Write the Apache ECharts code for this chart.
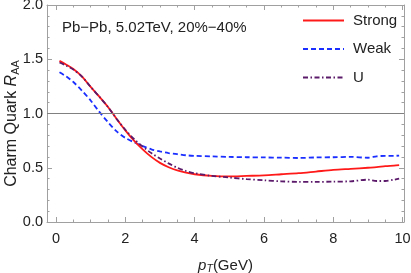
<!DOCTYPE html>
<html><head><meta charset="utf-8">
<script src="https://cdn.jsdelivr.net/npm/echarts@6/dist/echarts.min.js"></script>
<style>html,body{margin:0;padding:0;background:#fff}#c{width:411px;height:273px}</style>
</head><body><div id="c"></div>
<script>
const pT     = [0.1, 0.3, 0.5, 0.75, 1.0, 1.25, 1.5, 1.75, 2.0, 2.25, 2.5, 2.75, 3.0, 3.25, 3.5, 3.75, 4.0, 4.5, 5.0, 5.5, 6.0, 6.5, 7.0, 7.5, 8.0, 8.5, 9.0, 9.25, 9.5, 9.75, 9.9];
const strong = [1.485, 1.45, 1.41, 1.34, 1.245, 1.155, 1.06, 0.95, 0.845, 0.75, 0.67, 0.60, 0.545, 0.505, 0.475, 0.455, 0.44, 0.425, 0.42, 0.425, 0.43, 0.44, 0.45, 0.465, 0.48, 0.49, 0.50, 0.505, 0.515, 0.52, 0.525];
const weak   = [1.38, 1.34, 1.29, 1.21, 1.12, 1.015, 0.92, 0.835, 0.775, 0.735, 0.70, 0.67, 0.65, 0.635, 0.625, 0.615, 0.61, 0.605, 0.60, 0.597, 0.595, 0.593, 0.59, 0.595, 0.597, 0.60, 0.592, 0.605, 0.61, 0.61, 0.612];
const uPot   = [1.47, 1.44, 1.405, 1.34, 1.245, 1.155, 1.06, 0.95, 0.85, 0.765, 0.695, 0.635, 0.585, 0.54, 0.50, 0.47, 0.45, 0.425, 0.41, 0.395, 0.385, 0.375, 0.37, 0.37, 0.372, 0.375, 0.39, 0.378, 0.378, 0.39, 0.40];
const seriesNames = ['Strong', 'Weak', 'U'];
const xTickLabels = [0, 2, 4, 6, 8, 10];
const xMinorTicks = [0, 0.5, 1, 1.5, 2, 2.5, 3, 3.5, 4, 4.5, 5, 5.5, 6, 6.5, 7, 7.5, 8, 8.5, 9, 9.5, 10];
const yTickLabels = [0, 0.5, 1.0, 1.5, 2.0];
const yMinorTicks = [0, 0.1, 0.2, 0.3, 0.4, 0.5, 0.6, 0.7, 0.8, 0.9, 1.0, 1.1, 1.2, 1.3, 1.4, 1.5, 1.6, 1.7, 1.8, 1.9, 2.0];
const refLine = 1.0;
const annotation = 'Pb\u2212Pb, 5.02TeV, 20%\u221240%';

const FONT = '"Liberation Sans", Arial, sans-serif';
const FRAME = '#a0a0a0';
const XMIN = -0.26, XMAX = 10.04, YMIN = 0, YMAX = 2;

function pairs(ys) { return pT.map((x, i) => [x, ys[i]]); }

function xAxisDef(pos, major, withLabel, showLine) {
  return {
    type: 'value', position: pos, min: XMIN, max: XMAX, gridIndex: 0,
    axisLine: { show: showLine, onZero: false, lineStyle: { color: FRAME, width: 1 } },
    axisTick: { show: true, inside: true, length: major ? 5 : 2.5, customValues: major ? xTickLabels : xMinorTicks, lineStyle: { color: FRAME, width: 1 } },
    axisLabel: { show: withLabel, customValues: xTickLabels, color: '#222', fontFamily: FONT, fontSize: 14.5, margin: 9 },
    splitLine: { show: false }
  };
}
function yAxisDef(pos, major, withLabel, showLine) {
  return {
    type: 'value', position: pos, min: YMIN, max: YMAX, gridIndex: 0,
    axisLine: { show: showLine, onZero: false, lineStyle: { color: FRAME, width: 1 } },
    axisTick: { show: true, inside: true, length: major ? 5 : 2.5, customValues: major ? yTickLabels : yMinorTicks, lineStyle: { color: FRAME, width: 1 } },
    axisLabel: { show: withLabel, customValues: yTickLabels, formatter: v => Number(v).toFixed(1), color: '#222', fontFamily: FONT, fontSize: 14.5, margin: 4 },
    splitLine: { show: false }
  };
}

const xMain = xAxisDef('bottom', true, true, true);
xMain.name = '{i|p}{sub|T}(GeV)';
xMain.nameLocation = 'middle';
xMain.nameGap = 35;
xMain.nameTextStyle = {
  fontFamily: FONT, fontSize: 15, color: '#222', verticalAlign: 'top',
  rich: {
    i: { fontFamily: FONT, fontSize: 15, fontStyle: 'italic', color: '#222' },
    sub: { fontFamily: FONT, fontSize: 10.5, fontStyle: 'italic', color: '#222', padding: [7, 0, 0, 0] }
  }
};
const yMain = yAxisDef('left', true, true, true);
yMain.name = 'Charm Quark {i|R}{sub|AA}';
yMain.nameLocation = 'middle';
yMain.nameGap = 26;
yMain.nameMoveOverlap = false;
yMain.nameTextStyle = {
  fontFamily: FONT, fontSize: 16, color: '#222', padding: [0, 20, 0, 0],
  rich: {
    i: { fontFamily: FONT, fontSize: 16, fontStyle: 'italic', color: '#222' },
    sub: { fontFamily: FONT, fontSize: 11, color: '#222', padding: [7, 0, 0, 0] }
  }
};

const chart = echarts.init(document.getElementById('c'), null, { renderer: 'canvas' });
chart.setOption({
  animation: false,
  backgroundColor: '#fff',
  grid: { left: 47, right: 7, top: 5, bottom: 51, containLabel: false, outerBoundsMode: 'none' },
  title: {
    text: annotation, left: 57, top: 15,
    textStyle: { fontFamily: FONT, fontSize: 15, fontWeight: 'normal', color: '#222' }
  },
  legend: {
    orient: 'vertical', left: 297, top: 8,
    itemWidth: 41, itemHeight: 14, itemGap: 13.5,
    data: seriesNames,
    itemStyle: { opacity: 0 },
    textStyle: { fontFamily: FONT, fontSize: 15, color: '#222', padding: [0, 0, 0, 4] }
  },
  xAxis: [
    xMain,
    xAxisDef('bottom', false, false, false),
    xAxisDef('top', true, false, true),
    xAxisDef('top', false, false, false)
  ],
  yAxis: [
    yMain,
    yAxisDef('left', false, false, false),
    yAxisDef('right', true, false, true),
    yAxisDef('right', false, false, false)
  ],
  series: [
    {
      name: 'ref', type: 'line', data: [], silent: true, z: 1,
      markLine: {
        silent: true, symbol: 'none', label: { show: false },
        lineStyle: { color: '#808080', width: 1.2, type: 'solid' },
        data: [{ yAxis: refLine }]
      }
    },
    {
      name: seriesNames[0], type: 'line', data: pairs(strong), smooth: 0.3, showSymbol: false, symbol: 'none', z: 4,
      itemStyle: { color: '#ff1a1a' },
      lineStyle: { color: '#ff1a1a', width: 1.8, type: 'solid' }
    },
    {
      name: seriesNames[1], type: 'line', data: pairs(weak), smooth: 0.3, showSymbol: false, symbol: 'none', z: 3,
      itemStyle: { color: '#1a2eff' },
      lineStyle: { color: '#1a2eff', width: 1.8, type: [5, 3] }
    },
    {
      name: seriesNames[2], type: 'line', data: pairs(uPot), smooth: 0.3, showSymbol: false, symbol: 'none', z: 5,
      itemStyle: { color: '#5c1a6b' },
      lineStyle: { color: '#5c1a6b', width: 1.8, type: [5, 2.5, 1.5, 2.5] }
    }
  ]
});
</script></body></html>
